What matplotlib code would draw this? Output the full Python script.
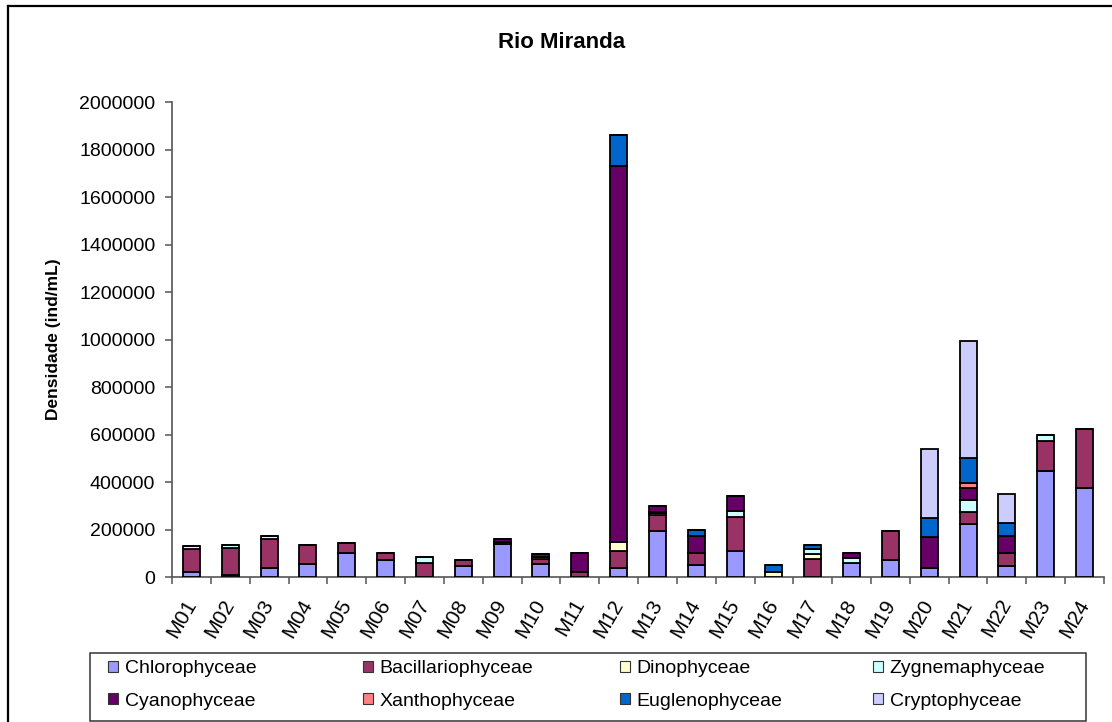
# stacked bar chart of phytoplankton density per sampling point, Rio Miranda
import matplotlib
matplotlib.use('Agg')
import matplotlib.pyplot as plt
from matplotlib.patches import Patch, Rectangle
from matplotlib.lines import Line2D
from matplotlib.transforms import ScaledTranslation
import numpy as np

plt.rcParams['font.family'] = ['Liberation Sans', 'DejaVu Sans']

# sampling points
stations = ['M%02d' % i for i in range(1, 25)]

# densities (ind/mL) per class
chlorophyceae = [20000, 10000, 40000, 53000, 100000, 70000, 0, 48000, 138000, 53000, 0, 38000,
                 195000, 49000, 111000, 0, 0, 61000, 73000, 38000, 223000, 48000, 448000, 375000]
bacillariophyceae = [97000, 112000, 120000, 82000, 45000, 30000, 61000, 25000, 8000, 23000, 21000, 73000,
                     66000, 51000, 140000, 0, 77000, 0, 119000, 0, 49000, 53000, 126000, 250000]
dinophyceae = [0, 0, 0, 0, 0, 0, 0, 0, 0, 8000, 0, 38000,
               7000, 0, 0, 20000, 19000, 0, 0, 0, 0, 0, 0, 0]
zygnemaphyceae = [12000, 13000, 13000, 0, 0, 0, 22000, 0, 0, 0, 0, 0,
                  6000, 0, 29000, 0, 21000, 18000, 0, 0, 52000, 0, 26000, 0]
cyanophyceae = [0, 0, 0, 0, 0, 0, 0, 0, 16000, 12000, 80000, 1581000,
                24000, 73000, 63000, 0, 0, 22000, 0, 129000, 49000, 72000, 0, 0]
xanthophyceae = [0, 0, 0, 0, 0, 0, 0, 0, 0, 0, 0, 0,
                 0, 0, 0, 0, 0, 0, 0, 0, 23000, 0, 0, 0]
euglenophyceae = [0, 0, 0, 0, 0, 0, 0, 0, 0, 0, 0, 131000,
                  0, 24000, 0, 31000, 18000, 0, 0, 80000, 104000, 53000, 0, 0]
cryptophyceae = [0, 0, 0, 0, 0, 0, 0, 0, 0, 0, 0, 0,
                 0, 0, 0, 0, 0, 0, 0, 292000, 494000, 122000, 0, 0]

names = ['Chlorophyceae', 'Bacillariophyceae', 'Dinophyceae', 'Zygnemaphyceae',
         'Cyanophyceae', 'Xanthophyceae', 'Euglenophyceae', 'Cryptophyceae']
series = [chlorophyceae, bacillariophyceae, dinophyceae, zygnemaphyceae,
          cyanophyceae, xanthophyceae, euglenophyceae, cryptophyceae]
colors = ['#9999FF', '#993366', '#FFFFCC', '#CCFFFF',
          '#660066', '#FF8080', '#0066CC', '#CCCCFF']

fig = plt.figure(figsize=(11.12, 7.22), dpi=100)
ax = fig.add_axes([0.1547, 0.2008, 0.8381, 0.6579])

x = np.arange(len(stations))
bottom = np.zeros(len(stations))
for vals, name, c in zip(series, names, colors):
    vals = np.array(vals, dtype=float)
    ax.bar(x, vals, width=0.44, bottom=bottom, color=c, edgecolor='black',
           linewidth=1.3, label=name, zorder=3)
    bottom += vals

# axes
ax.set_xlim(-0.5, len(stations) - 0.5)
ax.set_ylim(0, 2000000)
ax.set_yticks(np.arange(0, 2000001, 200000))
ax.set_yticklabels(['%d' % v for v in np.arange(0, 2000001, 200000)], fontsize=14)
ax.set_xticks(np.arange(len(stations) + 1) - 0.5)
ax.set_xticklabels([])
ax.set_xticks(x, minor=True)
ax.set_xticklabels(stations, minor=True, fontsize=15, rotation=60,
                   ha='right', va='center', rotation_mode='anchor')
# nudge station labels a little to the right
shift = ScaledTranslation(4 / 100, 0, fig.dpi_scale_trans)
for lab in ax.get_xticklabels(minor=True):
    lab.set_transform(lab.get_transform() + shift)
ax.tick_params(axis='x', which='minor', length=0, pad=17)
ax.tick_params(axis='both', which='major', direction='out', length=5,
               width=1.1, color='#555555', pad=7)
for s in ['top', 'right']:
    ax.spines[s].set_visible(False)
for s in ['left', 'bottom']:
    ax.spines[s].set_color('#555555')
    ax.spines[s].set_linewidth(1.2)

ax.set_ylabel('Densidade (ind/mL)', fontsize=12.5, fontweight='bold', labelpad=13)
fig.text(562 / 1112, 1 - 42 / 722, 'Rio Miranda', fontsize=16, fontweight='bold',
         ha='center', va='center')

# chart border (left and top)
fig.add_artist(Line2D([8 / 1112, 8 / 1112], [0, 1 - 6 / 722], color='black',
                      linewidth=1.6, transform=fig.transFigure))
fig.add_artist(Line2D([8 / 1112, 1], [1 - 6 / 722, 1 - 6 / 722], color='black',
                      linewidth=1.6, transform=fig.transFigure))

# legend box
fig.add_artist(Rectangle((90 / 1112, 1 / 722), 996 / 1112, 68 / 722, fill=False,
                         edgecolor='#333333', linewidth=1.1, transform=fig.transFigure))
col_x = [108, 363, 620, 873]
for k in range(4):
    handles = [Patch(facecolor=colors[k], edgecolor='#333333', linewidth=0.8),
               Patch(facecolor=colors[k + 4], edgecolor='#333333', linewidth=0.8)]
    fig.legend(handles, [names[k], names[k + 4]], loc='center left',
               bbox_to_anchor=(col_x[k] / 1112, 1 - 685 / 722), frameon=False,
               fontsize=14, handlelength=0.5, handleheight=0.5, handletextpad=0.35,
               labelspacing=0.8, borderpad=0, borderaxespad=0)

fig.savefig('out.png', dpi=100)
